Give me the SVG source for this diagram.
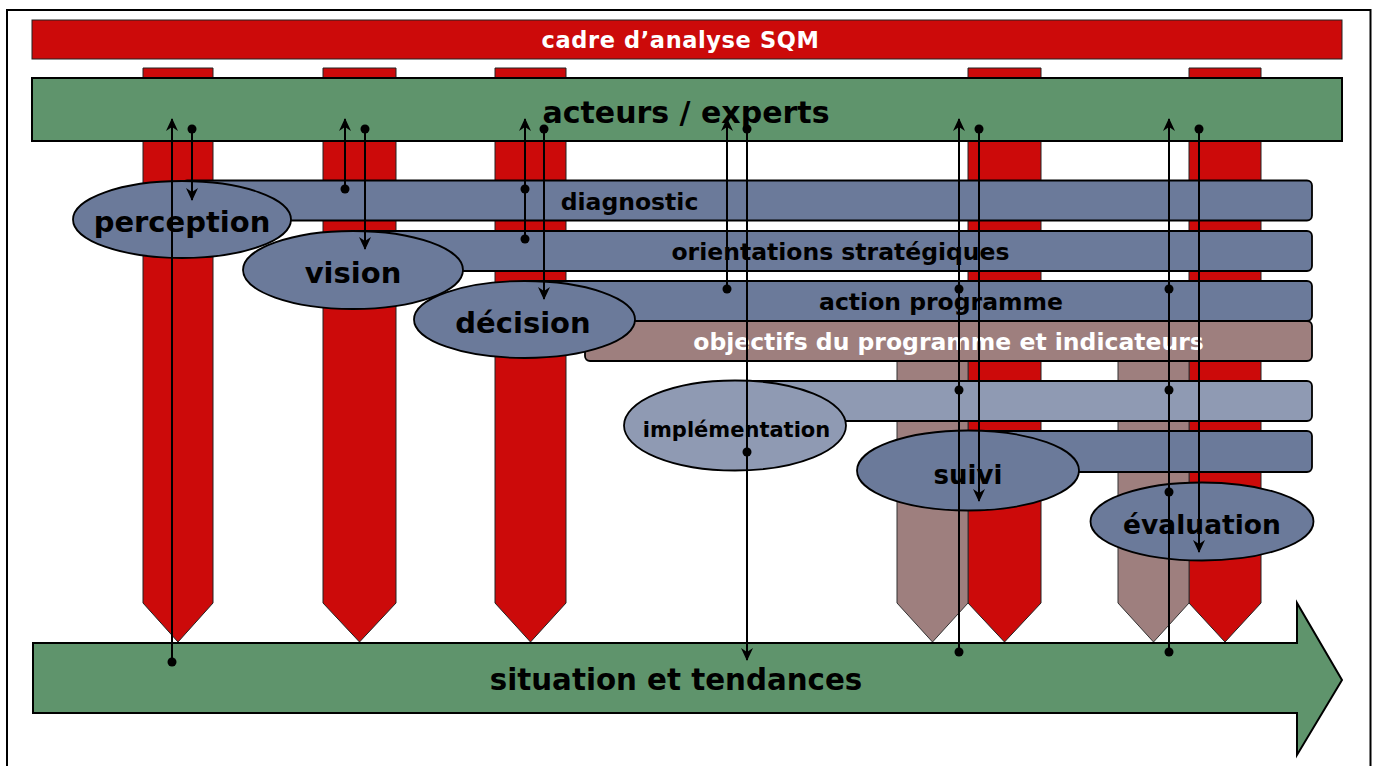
<svg xmlns="http://www.w3.org/2000/svg" width="1377" height="766" viewBox="0 0 1377 766">
<style>
.t{font-family:"DejaVu Sans","Liberation Sans",sans-serif;font-weight:bold;text-anchor:middle;fill:#000}
.w{fill:#fff}
.red{fill:#cc0a0a;stroke:#222;stroke-width:1}
.brn{fill:#9e7f7e;stroke:#333;stroke-width:1}
.grn{fill:#5f946c;stroke:#000;stroke-width:2}
.blu{fill:#6b7a9a;stroke:#000;stroke-width:1.8}
.lbl{fill:#8f9ab3;stroke:#000;stroke-width:1.8}
.ell{stroke:#000;stroke-width:1.8}
.c{fill:none;stroke:#000;stroke-width:2}
.d{fill:#000}
</style>
<defs>
<marker id="ah" viewBox="0 0 13 12" refX="12" refY="6" markerWidth="13" markerHeight="12" markerUnits="userSpaceOnUse" orient="auto">
<path d="M0,0 L13,6 L0,12 L4,6 z" fill="#000"/>
</marker>
</defs>
<rect x="0" y="0" width="1377" height="766" fill="#fff"/>
<rect id="frame" x="7" y="10" width="1363.5" height="800" fill="none" stroke="#000" stroke-width="2"/>

<g id="cadre">
<rect x="32" y="20" width="1310" height="39" fill="#cc0a0a" stroke="#222" stroke-width="1"/>
<text class="t w" x="680.5" y="48" font-size="22.5" letter-spacing="0.6">cadre d’analyse SQM</text>
</g>

<g id="columns">
<path class="red" d="M143,68 H213 V603 L178,642 L143,603 Z"/>
<path class="red" d="M323,68 H396 V603 L359.5,642 L323,603 Z"/>
<path class="red" d="M495,68 H566 V603 L530.5,642 L495,603 Z"/>
<path class="red" d="M968,68 H1041 V603 L1004.5,642 L968,603 Z"/>
<path class="red" d="M1189,68 H1261 V603 L1225,642 L1189,603 Z"/>
<path class="brn" d="M897,340 H968 V603 L932.5,642 L897,603 Z"/>
<path class="brn" d="M1118,340 H1189 V603 L1153.5,642 L1118,603 Z"/>
</g>

<g id="acteurs">
<rect class="grn" x="32" y="78" width="1310" height="63"/>
<text class="t" x="686" y="123" font-size="30">acteurs / experts</text>
</g>

<g id="diagnostic">
<rect class="blu" x="182" y="180.5" width="1130" height="40" rx="5"/>
<text class="t" x="629.5" y="210" font-size="23.5">diagnostic</text>
</g>
<g id="orientations">
<rect class="blu" x="353" y="231" width="959" height="40" rx="5"/>
<text class="t" x="840.5" y="260" font-size="23.5">orientations stratégiques</text>
</g>
<g id="action">
<rect class="blu" x="524" y="281" width="788" height="40" rx="5"/>
<text class="t" x="941" y="310" font-size="23.5">action programme</text>
</g>
<g id="objectifs">
<rect x="585" y="321" width="727" height="40" rx="5" fill="#9e7f7e" stroke="#000" stroke-width="1.8"/>
<text class="t w" x="948.5" y="350" font-size="23.5">objectifs du programme et indicateurs</text>
</g>
<g id="impl-bar">
<rect class="lbl" x="735" y="381" width="577" height="40" rx="5"/>
</g>
<g id="suivi-bar">
<rect class="blu" x="968" y="431" width="344" height="41" rx="5"/>
</g>

<g id="situation">
<path class="grn" d="M33,643 H1297 V603 L1342,680 L1297,755 V713 H33 Z"/>
<text class="t" x="676" y="690" font-size="29.3">situation et tendances</text>
</g>

<g id="perception">
<ellipse class="ell" cx="182" cy="219.5" rx="109" ry="38.5" fill="#6b7a9a"/>
<text class="t" x="182" y="232" font-size="29">perception</text>
</g>
<g id="vision">
<ellipse class="ell" cx="353" cy="270" rx="110" ry="39" fill="#6b7a9a"/>
<text class="t" x="353" y="283" font-size="29">vision</text>
</g>
<g id="decision">
<ellipse class="ell" cx="524.5" cy="319.5" rx="110.5" ry="38.5" fill="#6b7a9a"/>
<text class="t" x="523" y="333" font-size="29">décision</text>
</g>
<g id="implementation">
<ellipse class="ell" cx="735" cy="425.5" rx="111" ry="45" fill="#8f9ab3"/>
<text class="t" x="736.5" y="436.5" font-size="21">implémentation</text>
</g>
<g id="suivi">
<ellipse class="ell" cx="968" cy="470.5" rx="111" ry="40" fill="#6b7a9a"/>
<text class="t" x="968" y="484" font-size="26">suivi</text>
</g>
<g id="evaluation">
<ellipse class="ell" cx="1202" cy="521.5" rx="111.5" ry="39" fill="#6b7a9a"/>
<text class="t" x="1202" y="534" font-size="26.5">évaluation</text>
</g>

<g id="connectors">
<line class="c" x1="172" y1="662" x2="172" y2="119" marker-end="url(#ah)"/>
<line class="c" x1="192" y1="129" x2="192" y2="200" marker-end="url(#ah)"/>
<line class="c" x1="345" y1="189" x2="345" y2="119" marker-end="url(#ah)"/>
<line class="c" x1="365" y1="129" x2="365" y2="249" marker-end="url(#ah)"/>
<line class="c" x1="525" y1="239" x2="525" y2="119" marker-end="url(#ah)"/>
<line class="c" x1="544" y1="129" x2="544" y2="299" marker-end="url(#ah)"/>
<line class="c" x1="727" y1="289" x2="727" y2="119" marker-end="url(#ah)"/>
<line class="c" x1="747" y1="129" x2="747" y2="660" marker-end="url(#ah)"/>
<line class="c" x1="959" y1="652" x2="959" y2="119" marker-end="url(#ah)"/>
<line class="c" x1="979" y1="129" x2="979" y2="501" marker-end="url(#ah)"/>
<line class="c" x1="1169" y1="652" x2="1169" y2="119" marker-end="url(#ah)"/>
<line class="c" x1="1199" y1="129" x2="1199" y2="552" marker-end="url(#ah)"/>
<circle class="d" cx="172" cy="662" r="4.5"/>
<circle class="d" cx="192" cy="129" r="4.5"/>
<circle class="d" cx="345" cy="189" r="4.5"/>
<circle class="d" cx="365" cy="129" r="4.5"/>
<circle class="d" cx="525" cy="189" r="4.5"/>
<circle class="d" cx="525" cy="239" r="4.5"/>
<circle class="d" cx="544" cy="129" r="4.5"/>
<circle class="d" cx="727" cy="289" r="4.5"/>
<circle class="d" cx="747" cy="129" r="4.5"/>
<circle class="d" cx="747" cy="452" r="4.5"/>
<circle class="d" cx="959" cy="289" r="4.5"/>
<circle class="d" cx="959" cy="390" r="4.5"/>
<circle class="d" cx="959" cy="652" r="4.5"/>
<circle class="d" cx="979" cy="129" r="4.5"/>
<circle class="d" cx="1169" cy="289" r="4.5"/>
<circle class="d" cx="1169" cy="390" r="4.5"/>
<circle class="d" cx="1169" cy="492" r="4.5"/>
<circle class="d" cx="1169" cy="652" r="4.5"/>
<circle class="d" cx="1199" cy="129" r="4.5"/>
</g>
</svg>
